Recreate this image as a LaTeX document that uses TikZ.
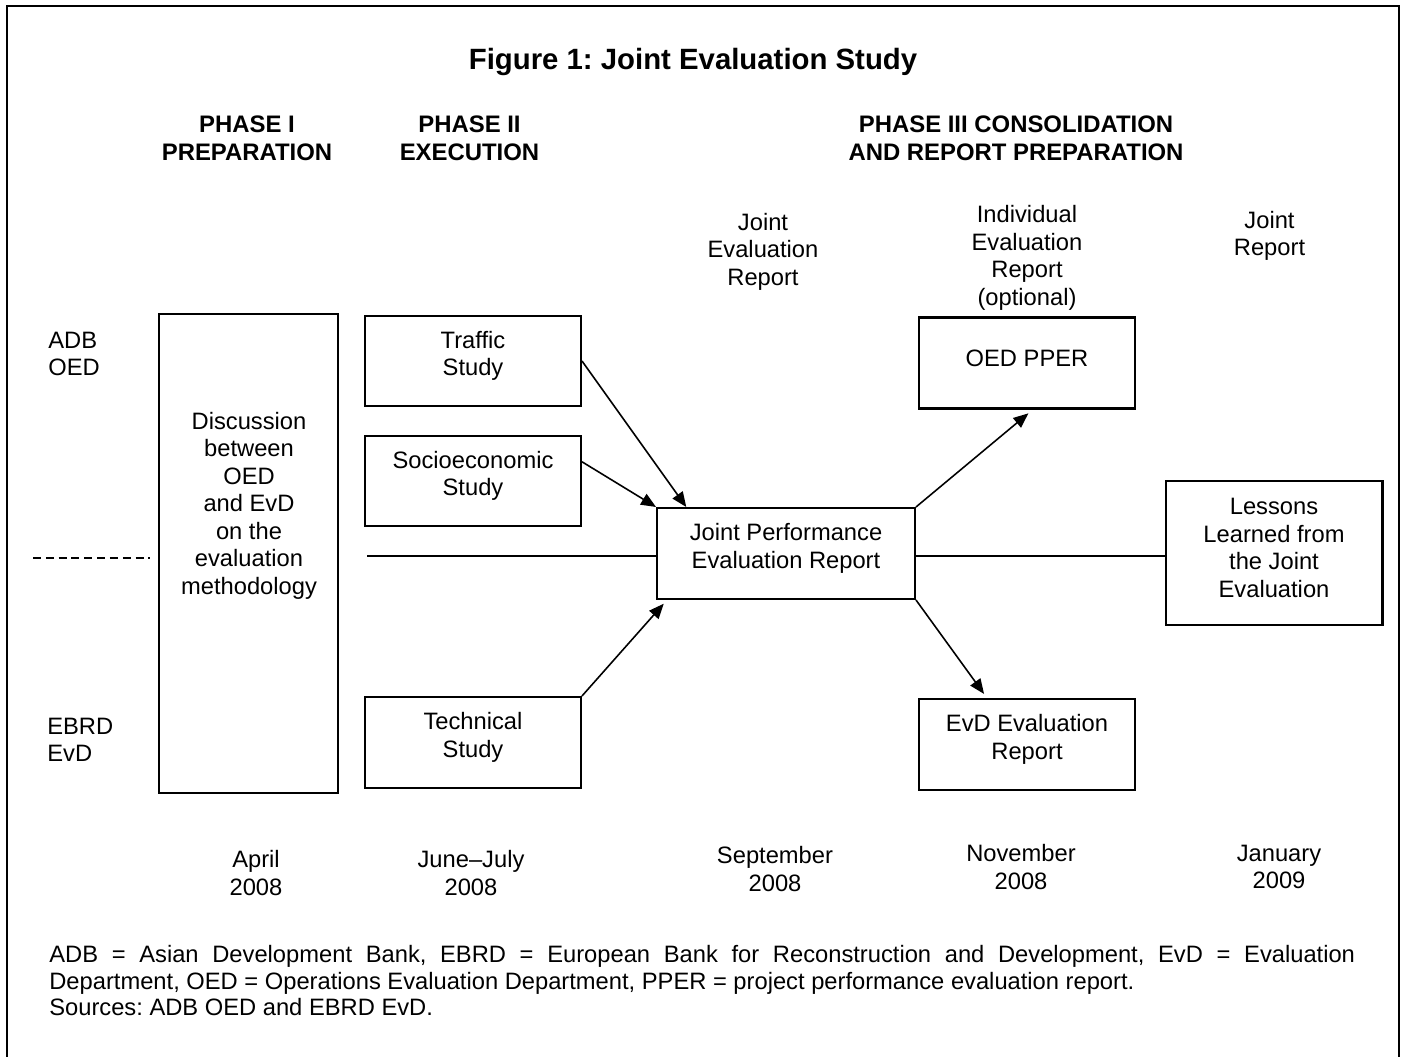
\documentclass[tikz,border=0pt]{standalone}
\usepackage{fontspec}
\setmainfont{Liberation Sans}
\usetikzlibrary{arrows.meta,calc}
\frenchspacing
\tikzset{
    txt/.style = {align=center,inner sep=0pt,font=\fontsize{13.5}{15.65}\selectfont},
    head/.style = {txt,font=\fontsize{13.6}{15.65}\selectfont\bfseries},
    box/.style = {rectangle,draw=black,line width=1.15pt,minimum width=4.32cm,minimum height=1.82cm},
    boxtext/.style = {txt,yshift=0.1cm},
    link/.style = {line width=0.9pt},
    flow/.style = {link,-{Triangle[length=8.5pt,width=7pt]}},
    frame/.style = {line width=0.8pt}
}
\begin{document}
\begin{tikzpicture}[x=0.02cm,y=-0.02cm]
\useasboundingbox (0,0) rectangle (1403,1057);
\draw[frame] (7,1057) |- (1399,6) -- (1399,1057);

% headings
\node[txt,font=\fontsize{16.7}{19}\selectfont\bfseries] (title) at (693,61.5) {Figure 1: Joint Evaluation Study};
\node[head] (phase1) at (247,138.5) {PHASE I\\PREPARATION};
\node[head] (phase2) at (469.5,138.5) {PHASE II\\EXECUTION};
\node[head] (phase3) at (1016,138.5) {PHASE III CONSOLIDATION\\AND REPORT PREPARATION};

% column labels
\node[txt] (jointEval) at (763,251.5) {Joint\\Evaluation\\Report};
\node[txt] (indivEval) at (1027,258) {Individual\\Evaluation\\Report\\(optional)};
\node[txt] (jointRep) at (1269.5,235.7) {Joint\\Report};

% row labels
\node[txt,align=left,anchor=west] (adb) at (48,354) {ADB\\OED};
\node[txt,align=left,anchor=west] (ebrd) at (47,740) {EBRD\\EvD};

% boxes
\node[box,minimum width=3.58cm,minimum height=9.58cm] (discussion) at (248.5,553.5) {};
\node[txt] (discussionText) at (249,505.5) {Discussion\\between\\OED\\and EvD\\on the\\evaluation\\methodology};
\node[box,minimum height=1.8cm,label={[boxtext,name=trafficText]center:Traffic\\Study}] (traffic) at (473,361) {};
\node[box,minimum height=1.8cm,label={[boxtext,name=socioText]center:Socioeconomic\\Study}] (socio) at (473,481) {};
\node[box,label={[boxtext,name=technicalText]center:Technical\\Study}] (technical) at (473,742.5) {};
\node[box,minimum width=5.16cm,label={[boxtext,name=jointText]center:Joint Performance\\Evaluation Report}] (joint) at (786,553.5) {};
\node[box,label={[boxtext,name=oedText]center:OED PPER}] (oed) at (1027,363) {};
\node[box,label={[boxtext,name=evdText]center:EvD Evaluation\\Report}] (evd) at (1027,744.5) {};
\node[box,minimum width=4.34cm,minimum height=2.88cm,label={[boxtext,name=lessonsText]center:Lessons\\Learned from\\the Joint\\Evaluation}] (lessons) at (1274,553) {};

% connectors
\draw[flow] (traffic.east) -- (joint.155);
\draw[flow] (socio.10) -- (joint.north west);
\draw[flow,shorten >=0.1cm] (technical.north east) -- ($(joint.south west)+(11,0)$);
\draw[flow,shorten >=0.12cm] (joint.north east) -- ($(oed.south)+(6,0)$);
\draw[flow,shorten >=0.1cm] (joint.south east) -- ($(evd.north)+(-40,0)$);

\coordinate (hl) at (367,556);
\draw[link] (hl) -- (hl -| joint.west);
\draw[link] (hl -| joint.east) -- (hl -| lessons.west);
\coordinate (dashA) at (33,558);
\coordinate (dashB) at (150,558);
\draw[link,dash pattern=on 4.5pt off 2.8pt] (dashA) -- (dashB);

% dates
\node[txt] (april) at (256,873) {April\\2008};
\node[txt] (june) at (471,873) {June–July\\2008};
\node[txt] (sept) at (775,869) {September\\2008};
\node[txt] (nov) at (1021,867) {November\\2008};
\node[txt] (jan) at (1279,867) {January\\2009};

% notes
\node[txt,align=justify,text width=26.12cm,anchor=north west,font=\fontsize{13.5}{15.2}\selectfont] (notes) at (49,945)
    {ADB = Asian Development Bank, EBRD = European Bank for Reconstruction and Development, EvD = Evaluation\linebreak
     Department, OED = Operations Evaluation Department, PPER = project performance evaluation report.\\
     Sources: ADB OED and EBRD EvD.};
\end{tikzpicture}
\end{document}
